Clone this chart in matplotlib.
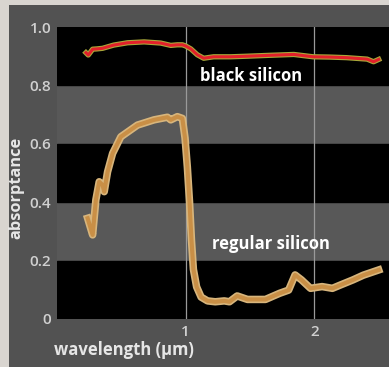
import matplotlib
matplotlib.use("Agg")
import matplotlib.pyplot as plt
import matplotlib.patheffects as pe

# black silicon absorptance
black_x = [0.225, 0.243, 0.277, 0.31, 0.354, 0.44, 0.548, 0.677, 0.806, 0.884, 0.935,
           0.975, 1.0, 1.04, 1.09, 1.14, 1.217, 1.35, 1.478, 1.65, 1.84, 1.99, 2.12,
           2.25, 2.41, 2.46, 2.50]
black_y = [0.912, 0.904, 0.924, 0.925, 0.927, 0.938, 0.946, 0.949, 0.945, 0.937, 0.939,
           0.939, 0.935, 0.925, 0.905, 0.893, 0.898, 0.898, 0.900, 0.903, 0.906, 0.898, 0.897,
           0.895, 0.890, 0.881, 0.889]

# regular silicon absorptance
reg_x = [0.238, 0.277, 0.302, 0.328, 0.354, 0.367, 0.393, 0.432, 0.496, 0.625, 0.754,
         0.858, 0.884, 0.935, 0.974, 0.995, 1.013, 1.03, 1.045, 1.06, 1.085, 1.12, 1.17,
         1.23, 1.30, 1.34, 1.40, 1.48, 1.62, 1.73, 1.80, 1.85, 1.90, 1.97, 2.06, 2.14,
         2.20, 2.30, 2.38, 2.50]
reg_y = [0.345, 0.288, 0.408, 0.470, 0.459, 0.436, 0.504, 0.567, 0.624, 0.664, 0.682,
         0.691, 0.682, 0.693, 0.687, 0.62, 0.52, 0.40, 0.27, 0.17, 0.11, 0.075, 0.062,
         0.059, 0.062, 0.059, 0.079, 0.067, 0.067, 0.088, 0.099, 0.151, 0.134, 0.105, 0.111,
         0.105, 0.116, 0.134, 0.150, 0.168]

yticks = [0, 0.2, 0.4, 0.6, 0.8, 1.0]
ytick_labels = ["0", "0.2", "0.4", "0.6", "0.8", "1.0"]
xticks = [1, 2]
xtick_labels = ["1", "2"]

W, H = 389, 367
fig = plt.figure(figsize=(W / 100, H / 100), dpi=100)
fig.patch.set_facecolor("#d9d5d0")

# dark panel behind the chart
panel = fig.add_axes([9 / W, 0, 1 - 9 / W, 1 - 5 / H])
panel.set_facecolor("#525252")
panel.set_xticks([])
panel.set_yticks([])
for s in panel.spines.values():
    s.set_visible(False)

ax = fig.add_axes([57 / W, 48 / H, 1 - 57 / W, (319 - 27) / H])
ax.set_facecolor("#585858")
ax.set_xlim(0, 2.58)
ax.set_ylim(0, 1.0)

# alternating bands
for lo in [0.0, 0.4, 0.8]:
    ax.axhspan(lo, lo + 0.2, color="black", zorder=0)
for xv in xticks:
    ax.axvline(xv, color="#9a9a9a", lw=0.9, zorder=1)

ax.plot(black_x, black_y, color="#e3202a", lw=2.2, zorder=3,
        path_effects=[pe.Stroke(linewidth=3.8, foreground="#a9a83a"), pe.Normal()])
ax.plot(reg_x, reg_y, color="#c98f46", lw=3.0, zorder=3,
        path_effects=[pe.Stroke(linewidth=5.4, foreground="#d7b57c"), pe.Normal()])

ax.text(1.51, 0.832, "black silicon", color="white", fontsize=12, fontweight="bold",
        family="Open Sans", ha="center", va="center", zorder=4)
ax.text(1.663, 0.257, "regular silicon", color="white", fontsize=12, fontweight="bold",
        family="Open Sans", ha="center", va="center", zorder=4)

ax.set_yticks(yticks)
ax.set_yticklabels(ytick_labels)
ax.set_xticks(xticks)
ax.set_xticklabels(xtick_labels)
ax.tick_params(length=0, colors="#d0d0d0", labelsize=11, pad=4)
for lab in ax.get_xticklabels() + ax.get_yticklabels():
    lab.set_fontfamily("Open Sans")
    lab.set_fontweight("semibold")
for s in ax.spines.values():
    s.set_visible(False)

fig.text(16 / W, 1 - 188 / H, "absorptance", rotation=90, color="#e6e6e6",
         fontsize=11.8, fontweight="bold", family="Open Sans", ha="center", va="center")
fig.text(54 / W, 1 - 350 / H, "wavelength (μm)", color="#e6e6e6",
         fontsize=12, fontweight="bold", family="Open Sans", ha="left", va="center")

fig.savefig("out.png", dpi=100, facecolor=fig.get_facecolor())
